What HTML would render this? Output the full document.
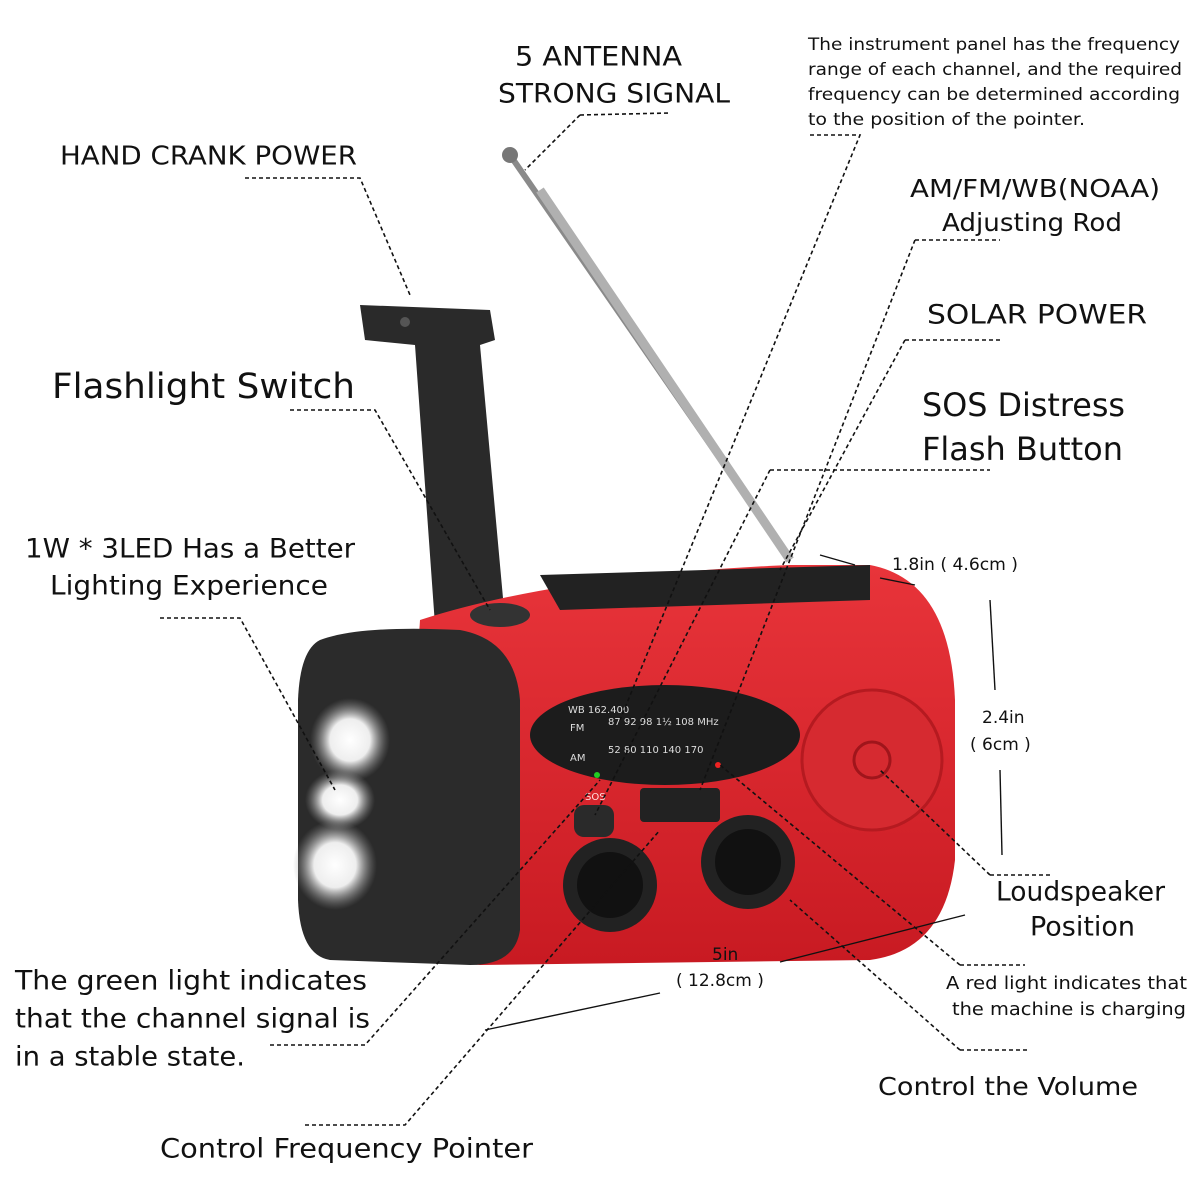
<!DOCTYPE html>
<html><head><meta charset="utf-8"><style>
html,body{margin:0;padding:0;background:#fff;}
svg{display:block;}
text{font-family:"DejaVu Sans","Liberation Sans",sans-serif;fill:#111;dominant-baseline:middle;}
.d{stroke:#111;stroke-width:1.6;stroke-dasharray:4 3;fill:none;}
.s{stroke:#111;stroke-width:1.4;fill:none;}
</style></head><body>
<svg width="1200" height="1200" viewBox="0 0 1200 1200">
<defs>
<radialGradient id="led" cx="50%" cy="50%" r="50%"><stop offset="0" stop-color="#fff"/><stop offset="0.5" stop-color="#eee"/><stop offset="1" stop-color="#888" stop-opacity="0"/></radialGradient>
<linearGradient id="red" x1="0" y1="0" x2="0" y2="1"><stop offset="0" stop-color="#e8343a"/><stop offset="1" stop-color="#c81a22"/></linearGradient>
</defs>
<line x1="510" y1="155" x2="790" y2="560" stroke="#8a8a8a" stroke-width="6"/>
<line x1="540" y1="190" x2="790" y2="560" stroke="#b0b0b0" stroke-width="9"/>
<circle cx="510" cy="155" r="8" fill="#777"/>
<path d="M360 305 L490 310 L495 340 L480 345 L505 620 L435 625 L415 345 L365 340 Z" fill="#2a2a2a"/>
<circle cx="405" cy="322" r="5" fill="#555"/>
<path d="M420 620 Q560 575 790 565 L870 565 Q950 580 955 700 L955 860 Q945 950 870 960 L480 965 Q420 960 400 930 Z" fill="url(#red)"/>
<path d="M540 575 L870 565 L870 600 L560 610 Z" fill="#222"/>
<path d="M320 640 Q360 625 460 630 Q515 640 520 700 L520 930 Q515 965 470 965 L330 960 Q300 955 298 900 L298 700 Q300 650 320 640 Z" fill="#2b2b2b"/>
<ellipse cx="350" cy="740" rx="40" ry="42" fill="url(#led)"/>
<ellipse cx="340" cy="800" rx="35" ry="30" fill="url(#led)"/>
<ellipse cx="335" cy="865" rx="42" ry="45" fill="url(#led)"/>
<ellipse cx="500" cy="615" rx="30" ry="12" fill="#333"/>
<ellipse cx="665" cy="735" rx="135" ry="50" fill="#1c1c1c"/>
<g font-size="10"><text x="568" y="710" style="fill:#ddd">WB 162.400</text><text x="570" y="728" style="fill:#ddd">FM</text><text x="608" y="722" style="fill:#ddd">87  92   98 1½   108  MHz</text><text x="570" y="758" style="fill:#ddd">AM</text><text x="608" y="750" style="fill:#ddd">52  80  110  140   170</text></g>
<circle cx="597" cy="775" r="3" fill="#2c2"/>
<circle cx="718" cy="765" r="3" fill="#e22"/>
<rect x="640" y="788" width="80" height="34" rx="4" fill="#222"/>
<rect x="574" y="805" width="40" height="32" rx="10" fill="#2a2a2a"/>
<text x="585" y="797" font-size="10" style="fill:#fdd">SOS</text>
<circle cx="610" cy="885" r="47" fill="#222"/><circle cx="610" cy="885" r="33" fill="#111"/>
<circle cx="748" cy="862" r="47" fill="#222"/><circle cx="748" cy="862" r="33" fill="#111"/>
<circle cx="872" cy="760" r="70" fill="#d62a30" stroke="#b51a20" stroke-width="3"/>
<circle cx="872" cy="760" r="18" fill="none" stroke="#a0151b" stroke-width="3"/>
<g font-size="27" lengthAdjust="spacingAndGlyphs">
<text x="515" y="58" textLength="167" lengthAdjust="spacingAndGlyphs">5 ANTENNA</text>
<text x="498" y="95" textLength="232" lengthAdjust="spacingAndGlyphs">STRONG SIGNAL</text>
<text x="60" y="157" font-size="26" textLength="297" lengthAdjust="spacingAndGlyphs">HAND CRANK POWER</text>
<text x="910" y="190" font-size="25" textLength="250" lengthAdjust="spacingAndGlyphs">AM/FM/WB(NOAA)</text>
<text x="942" y="224" font-size="25" textLength="180" lengthAdjust="spacingAndGlyphs">Adjusting Rod</text>
<text x="927" y="316" textLength="220" lengthAdjust="spacingAndGlyphs">SOLAR POWER</text>
<text x="52" y="388" font-size="35" textLength="303" lengthAdjust="spacingAndGlyphs">Flashlight Switch</text>
<text x="922" y="407" font-size="32" textLength="203" lengthAdjust="spacingAndGlyphs">SOS Distress</text>
<text x="922" y="451" font-size="32" textLength="201" lengthAdjust="spacingAndGlyphs">Flash Button</text>
<text x="25" y="550" textLength="330" lengthAdjust="spacingAndGlyphs">1W * 3LED Has a Better</text>
<text x="50" y="587" textLength="278" lengthAdjust="spacingAndGlyphs">Lighting Experience</text>
<text x="996" y="893" textLength="169" lengthAdjust="spacingAndGlyphs">Loudspeaker</text>
<text x="1030" y="928" textLength="105" lengthAdjust="spacingAndGlyphs">Position</text>
<text x="15" y="982" textLength="352" lengthAdjust="spacingAndGlyphs">The green light indicates</text>
<text x="15" y="1020" textLength="355" lengthAdjust="spacingAndGlyphs">that the channel signal is</text>
<text x="15" y="1058" textLength="230" lengthAdjust="spacingAndGlyphs">in a stable state.</text>
<text x="878" y="1088" font-size="25" textLength="260" lengthAdjust="spacingAndGlyphs">Control the Volume</text>
<text x="160" y="1150" textLength="373" lengthAdjust="spacingAndGlyphs">Control Frequency Pointer</text>
</g>
<g font-size="17">
<text x="808" y="45" textLength="372" lengthAdjust="spacingAndGlyphs">The instrument panel has the frequency</text>
<text x="808" y="70" textLength="374" lengthAdjust="spacingAndGlyphs">range of each channel, and the required</text>
<text x="808" y="95" textLength="372" lengthAdjust="spacingAndGlyphs">frequency can be determined according</text>
<text x="808" y="120" textLength="277" lengthAdjust="spacingAndGlyphs">to the position of the pointer.</text>
<text x="892" y="565" textLength="126" lengthAdjust="spacingAndGlyphs">1.8in ( 4.6cm )</text>
<text x="982" y="718">2.4in</text><text x="970" y="745">( 6cm )</text>
<text x="712" y="955">5in</text><text x="676" y="981">( 12.8cm )</text>
<text x="946" y="984" font-size="18" textLength="241" lengthAdjust="spacingAndGlyphs">A red light indicates that</text>
<text x="952" y="1010" font-size="18" textLength="234" lengthAdjust="spacingAndGlyphs">the machine is charging</text>
</g>
<path class="d" d="M580 115 L670 113"/><path class="d" d="M580 115 L525 170"/>
<path class="d" d="M245 178 L360 178 L410 295"/>
<path class="d" d="M290 410 L375 410 L490 610"/>
<path class="d" d="M160 618 L240 618 L335 790"/>
<path class="d" d="M810 135 L860 135 L620 720"/>
<path class="d" d="M915 240 L1000 240"/><path class="d" d="M915 240 L700 790"/>
<path class="d" d="M905 340 L1000 340"/><path class="d" d="M905 340 L780 570"/>
<path class="d" d="M770 470 L990 470"/><path class="d" d="M770 470 L595 815"/>
<path class="d" d="M270 1045 L365 1045 L600 780"/>
<path class="d" d="M305 1125 L405 1125 L660 830"/>
<path class="d" d="M990 875 L1050 875"/><path class="d" d="M990 875 L880 770"/>
<path class="d" d="M960 965 L1025 965"/><path class="d" d="M960 965 L720 765"/>
<path class="d" d="M960 1050 L1030 1050"/><path class="d" d="M960 1050 L790 900"/>
<path class="s" d="M820 555 L855 565"/><path class="s" d="M880 578 L915 585"/>
<path class="s" d="M990 600 L995 690"/><path class="s" d="M1000 770 L1002 855"/>
<path class="s" d="M780 962 L965 915"/><path class="s" d="M485 1030 L660 993"/>
</svg>
</body></html>
